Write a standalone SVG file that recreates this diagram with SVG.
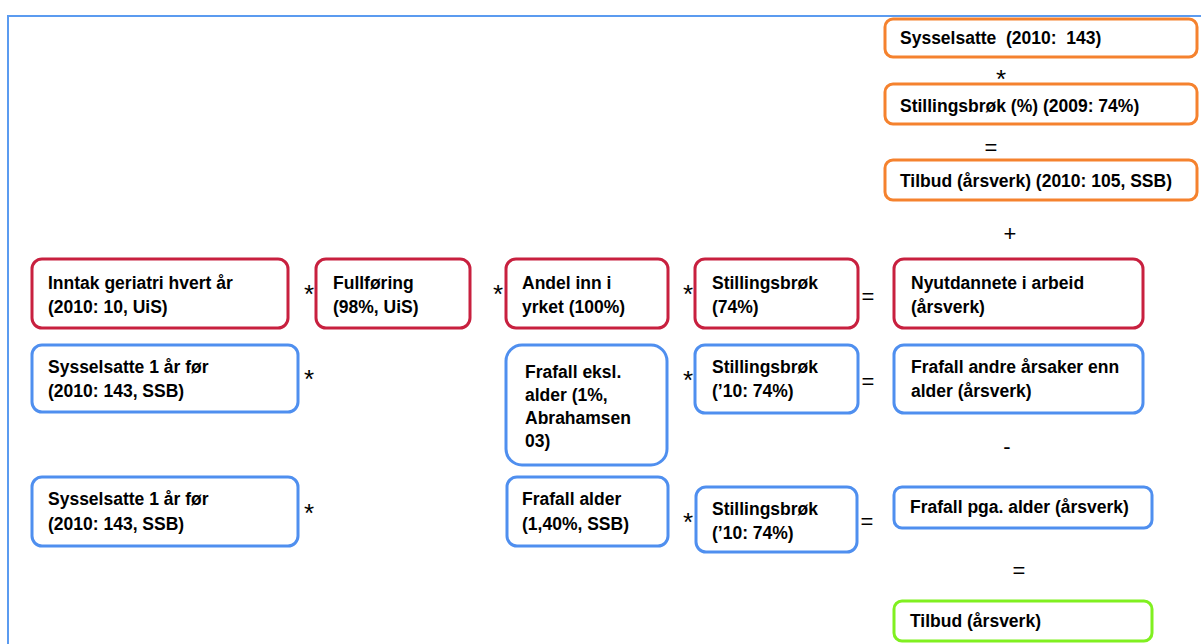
<svg xmlns="http://www.w3.org/2000/svg" width="1201" height="644" viewBox="0 0 1201 644">
<style>
.box{fill:#fff;stroke-width:3}
.red{stroke:#C8203F}
.blue{stroke:#4F8FEF}
.orange{stroke:#F5822E}
.green{stroke:#80F020}
.t{font-family:"Liberation Sans",Arial,sans-serif;font-weight:bold;font-size:17.5px;fill:#000;white-space:pre}
.op{font-family:"Liberation Sans",Arial,sans-serif;font-size:22px;fill:#000;text-anchor:middle}
.ast{font-size:26px}
</style>
<rect width="1201" height="644" fill="#fff"/>
<path d="M8,644 V16 H1201" fill="none" stroke="#5B9BF0" stroke-width="2"/>

<g id="n-sysselsatte">
<rect class="box orange" x="885" y="19" width="312" height="38" rx="8"/>
<text class="t" x="900" y="44" xml:space="preserve">Sysselsatte  (2010:  143)</text>
</g>
<g id="n-stillingsbrok-top">
<rect class="box orange" x="885" y="84" width="312" height="40" rx="8"/>
<text class="t" x="900" y="112">Stillingsbrøk (%) (2009: 74%)</text>
</g>
<g id="n-tilbud-top">
<rect class="box orange" x="885" y="160" width="312" height="40" rx="8"/>
<text class="t" x="900" y="187">Tilbud (årsverk) (2010: 105, SSB)</text>
</g>

<g id="n-inntak">
<rect class="box red" x="32" y="259" width="256" height="69" rx="10"/>
<text class="t" x="48" y="289">Inntak geriatri hvert år</text>
<text class="t" x="48" y="313">(2010: 10, UiS)</text>
</g>
<g id="n-fullforing">
<rect class="box red" x="316" y="259" width="154" height="69" rx="10"/>
<text class="t" x="333" y="289">Fullføring</text>
<text class="t" x="333" y="313">(98%, UiS)</text>
</g>
<g id="n-andel">
<rect class="box red" x="506" y="259" width="162" height="69" rx="10"/>
<text class="t" x="522" y="289">Andel inn i</text>
<text class="t" x="522" y="313">yrket (100%)</text>
</g>
<g id="n-stillingsbrok-1">
<rect class="box red" x="695" y="259" width="163" height="69" rx="10"/>
<text class="t" x="712" y="289">Stillingsbrøk</text>
<text class="t" x="712" y="313">(74%)</text>
</g>
<g id="n-nyutdannete">
<rect class="box red" x="894" y="259" width="249" height="69" rx="10"/>
<text class="t" x="911" y="289">Nyutdannete i arbeid</text>
<text class="t" x="911" y="313">(årsverk)</text>
</g>

<g id="n-sysselsatte-1">
<rect class="box blue" x="32" y="345" width="266" height="67" rx="10"/>
<text class="t" x="48" y="373">Sysselsatte 1 år før</text>
<text class="t" x="48" y="397">(2010: 143, SSB)</text>
</g>
<g id="n-frafall-eksl">
<rect class="box blue" x="506" y="345" width="161" height="120" rx="16"/>
<text class="t" x="525" y="378">Frafall eksl.</text>
<text class="t" x="525" y="401">alder (1%,</text>
<text class="t" x="525" y="424">Abrahamsen</text>
<text class="t" x="525" y="447">03)</text>
</g>
<g id="n-stillingsbrok-2">
<rect class="box blue" x="695" y="345" width="163" height="68" rx="10"/>
<text class="t" x="712" y="373">Stillingsbrøk</text>
<text class="t" x="712" y="397">(’10: 74%)</text>
</g>
<g id="n-frafall-andre">
<rect class="box blue" x="894" y="345" width="249" height="68" rx="10"/>
<text class="t" x="911" y="373">Frafall andre årsaker enn</text>
<text class="t" x="911" y="397">alder (årsverk)</text>
</g>

<g id="n-sysselsatte-2">
<rect class="box blue" x="32" y="477" width="266" height="69" rx="10"/>
<text class="t" x="48" y="505">Sysselsatte 1 år før</text>
<text class="t" x="48" y="530">(2010: 143, SSB)</text>
</g>
<g id="n-frafall-alder">
<rect class="box blue" x="507" y="477" width="161" height="69" rx="10"/>
<text class="t" x="522" y="505">Frafall alder</text>
<text class="t" x="522" y="530">(1,40%, SSB)</text>
</g>
<g id="n-stillingsbrok-3">
<rect class="box blue" x="696" y="487" width="161" height="65" rx="10"/>
<text class="t" x="712" y="515">Stillingsbrøk</text>
<text class="t" x="712" y="539">(’10: 74%)</text>
</g>
<g id="n-frafall-pga">
<rect class="box blue" x="894" y="487" width="258" height="41" rx="8"/>
<text class="t" x="910" y="513">Frafall pga. alder (årsverk)</text>
</g>
<g id="n-tilbud">
<rect class="box green" x="894" y="601" width="258" height="40" rx="8"/>
<text class="t" x="910" y="627">Tilbud (årsverk)</text>
</g>

<g id="connectors">
<text class="op ast" x="1001" y="88">*</text>
<text class="op" x="991" y="155">=</text>
<text class="op" x="1010" y="241">+</text>
<text class="op ast" x="309" y="303">*</text>
<text class="op ast" x="498" y="303">*</text>
<text class="op ast" x="688" y="303">*</text>
<text class="op" x="868" y="304">=</text>
<text class="op ast" x="309" y="388">*</text>
<text class="op ast" x="688" y="389">*</text>
<text class="op" x="868" y="389">=</text>
<text class="op" x="1007" y="454">-</text>
<text class="op ast" x="309" y="522">*</text>
<text class="op ast" x="688" y="531">*</text>
<text class="op" x="867" y="529">=</text>
<text class="op" x="1019" y="578">=</text>
</g>
</svg>
